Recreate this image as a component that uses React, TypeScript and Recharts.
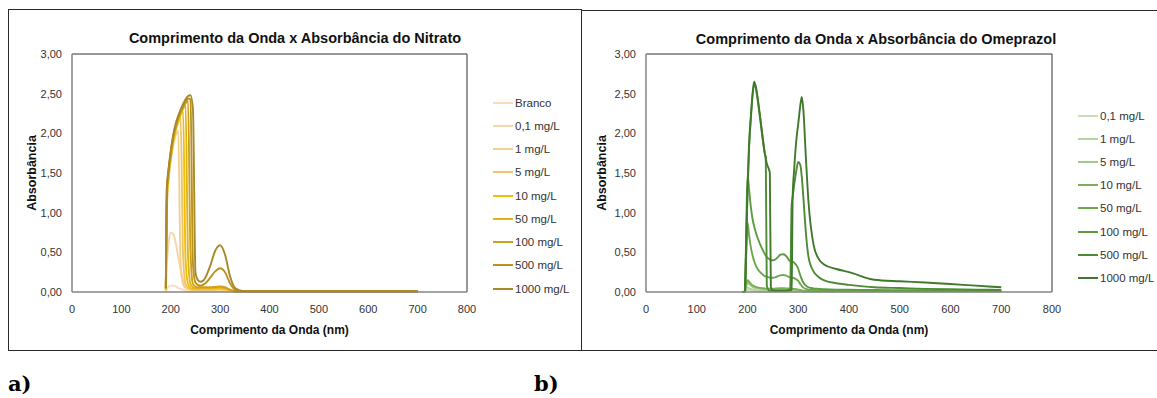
import { LineChart, Line, XAxis, YAxis, ReferenceLine, Legend } from 'recharts';

// shared axis ticks
const xTicks = [0, 100, 200, 300, 400, 500, 600, 700, 800];
const yTicks = [0, 0.5, 1, 1.5, 2, 2.5, 3];

// ---- Nitrato ----
const nitrateWave = [190, 192, 195, 200, 205, 210, 215, 220, 225, 230, 235, 240, 245, 250, 255, 260, 265, 270, 280, 290, 300, 310, 320, 330, 340, 350, 400, 500, 600, 700];
const nitrateNames = ['Branco', '0,1 mg/L', '1 mg/L', '5 mg/L', '10 mg/L', '50 mg/L', '100 mg/L', '500 mg/L', '1000 mg/L'];
const nitrateColors = ['#F9DCBD', '#F6D6A6', '#F3CF8E', '#F0C46C', '#F2C000', '#E3B31C', '#CFA01B', '#BA921F', '#A8892A'];
const nitBranco = [0.0, 0.03, 0.06, 0.08, 0.08, 0.07, 0.05, 0.04, 0.03, 0.02, 0.015, 0.01, 0.01, 0.01, 0.01, 0.01, 0.01, 0.01, 0.01, 0.01, 0.01, 0.01, 0.01, 0.01, 0.005, 0.005, 0.005, 0.005, 0.005, 0.005];
const nit01 = [0.0, 0.3, 0.58, 0.75, 0.73, 0.62, 0.45, 0.28, 0.15, 0.08, 0.05, 0.03, 0.02, 0.02, 0.02, 0.02, 0.02, 0.02, 0.02, 0.02, 0.02, 0.02, 0.015, 0.01, 0.01, 0.01, 0.01, 0.01, 0.01, 0.01];
const nit1 = [0.02, 1.0, 1.35, 1.65, 1.85, 1.98, 2.03, 0.35, 0.1, 0.05, 0.04, 0.03, 0.03, 0.02, 0.02, 0.02, 0.02, 0.02, 0.02, 0.025, 0.03, 0.025, 0.015, 0.01, 0.01, 0.01, 0.01, 0.01, 0.01, 0.01];
const nit5 = [0.03, 1.1, 1.4, 1.68, 1.88, 2.03, 2.13, 2.2, 0.45, 0.1, 0.05, 0.04, 0.03, 0.03, 0.03, 0.03, 0.03, 0.03, 0.03, 0.035, 0.04, 0.03, 0.02, 0.01, 0.01, 0.01, 0.01, 0.01, 0.01, 0.01];
const nit10 = [0.03, 1.15, 1.43, 1.7, 1.9, 2.05, 2.15, 2.23, 2.29, 0.4, 0.1, 0.05, 0.04, 0.04, 0.04, 0.04, 0.04, 0.04, 0.04, 0.045, 0.05, 0.04, 0.02, 0.01, 0.01, 0.01, 0.01, 0.01, 0.01, 0.01];
const nit50 = [0.04, 1.2, 1.46, 1.72, 1.92, 2.07, 2.17, 2.25, 2.31, 2.36, 0.45, 0.1, 0.06, 0.05, 0.05, 0.05, 0.05, 0.05, 0.05, 0.055, 0.06, 0.05, 0.025, 0.01, 0.01, 0.01, 0.01, 0.01, 0.01, 0.01];
const nit100 = [0.04, 1.25, 1.48, 1.74, 1.94, 2.09, 2.19, 2.27, 2.33, 2.38, 2.41, 0.5, 0.1, 0.07, 0.06, 0.06, 0.06, 0.06, 0.06, 0.065, 0.07, 0.06, 0.03, 0.01, 0.01, 0.01, 0.01, 0.01, 0.01, 0.01];
const nit500 = [0.05, 1.28, 1.5, 1.76, 1.96, 2.1, 2.2, 2.28, 2.35, 2.4, 2.44, 2.43, 0.35, 0.12, 0.09, 0.08, 0.09, 0.11, 0.18, 0.26, 0.3, 0.25, 0.11, 0.03, 0.01, 0.01, 0.01, 0.01, 0.01, 0.01];
const nit1000 = [0.05, 1.3, 1.52, 1.78, 1.98, 2.12, 2.22, 2.3, 2.37, 2.43, 2.47, 2.48, 2.3, 0.25, 0.15, 0.13, 0.14, 0.18, 0.33, 0.52, 0.59, 0.47, 0.2, 0.05, 0.02, 0.01, 0.01, 0.01, 0.01, 0.01];
const nitrateValues = [nitBranco, nit01, nit1, nit5, nit10, nit50, nit100, nit500, nit1000];

// ---- Omeprazol ----
const omeWave = [190, 195, 197, 200, 203, 207, 210, 213, 216, 220, 225, 230, 234, 236, 238, 242, 244, 246, 250, 255, 260, 265, 270, 275, 280, 282, 284, 287, 289, 292, 296, 300, 304, 307, 310, 315, 320, 330, 340, 350, 375, 400, 450, 500, 550, 600, 650, 700];
const omeNames = ['0,1 mg/L', '1 mg/L', '5 mg/L', '10 mg/L', '50 mg/L', '100 mg/L', '500 mg/L', '1000 mg/L'];
const omeColors = ['#CADFB9', '#B6D49F', '#A2C986', '#78AF57', '#6DA74D', '#5E9A41', '#4F8A35', '#3F7A2B'];
const ome01 = [0, 0.002, 0.015, 0.03, 0.025, 0.02, 0.015, 0.012, 0.01, 0.01, 0.01, 0.01, 0.01, 0.01, 0.01, 0.01, 0.01, 0.01, 0.01, 0.01, 0.01, 0.01, 0.01, 0.01, 0.01, 0.01, 0.01, 0.01, 0.01, 0.01, 0.01, 0.01, 0.01, 0.01, 0.008, 0.008, 0.008, 0.008, 0.008, 0.008, 0.008, 0.008, 0.008, 0.008, 0.008, 0.008, 0.008, 0.008];
const ome1 = [0, 0.003, 0.03, 0.06, 0.05, 0.04, 0.032, 0.027, 0.024, 0.021, 0.019, 0.018, 0.017, 0.017, 0.016, 0.016, 0.016, 0.016, 0.016, 0.016, 0.017, 0.018, 0.018, 0.017, 0.017, 0.017, 0.016, 0.016, 0.016, 0.015, 0.014, 0.013, 0.012, 0.011, 0.01, 0.01, 0.01, 0.01, 0.01, 0.01, 0.01, 0.01, 0.01, 0.01, 0.01, 0.01, 0.01, 0.01];
const ome5 = [0, 0.005, 0.06, 0.12, 0.1, 0.08, 0.065, 0.055, 0.05, 0.045, 0.04, 0.035, 0.033, 0.032, 0.031, 0.03, 0.03, 0.03, 0.03, 0.031, 0.032, 0.033, 0.033, 0.032, 0.031, 0.03, 0.03, 0.03, 0.029, 0.028, 0.026, 0.023, 0.02, 0.017, 0.015, 0.012, 0.01, 0.01, 0.01, 0.01, 0.01, 0.01, 0.01, 0.01, 0.01, 0.01, 0.01, 0.01];
const ome10 = [0, 0.005, 0.08, 0.15, 0.13, 0.1, 0.085, 0.075, 0.065, 0.058, 0.052, 0.048, 0.045, 0.044, 0.043, 0.042, 0.042, 0.042, 0.042, 0.044, 0.046, 0.048, 0.048, 0.046, 0.044, 0.043, 0.042, 0.041, 0.04, 0.038, 0.035, 0.03, 0.025, 0.02, 0.017, 0.014, 0.012, 0.012, 0.012, 0.012, 0.012, 0.012, 0.012, 0.012, 0.012, 0.012, 0.012, 0.012];
const ome50 = [0, 0.01, 0.35, 0.88, 0.72, 0.55, 0.46, 0.39, 0.34, 0.29, 0.25, 0.22, 0.2, 0.195, 0.19, 0.185, 0.18, 0.18, 0.18, 0.185, 0.2, 0.21, 0.215, 0.21, 0.195, 0.19, 0.185, 0.18, 0.18, 0.175, 0.16, 0.14, 0.1, 0.075, 0.055, 0.04, 0.03, 0.025, 0.02, 0.02, 0.02, 0.02, 0.02, 0.02, 0.018, 0.017, 0.016, 0.015];
const ome100 = [0, 0.01, 0.6, 1.48, 1.3, 1.05, 0.92, 0.83, 0.76, 0.68, 0.6, 0.53, 0.48, 0.46, 0.44, 0.42, 0.41, 0.4, 0.4, 0.41, 0.44, 0.47, 0.475, 0.46, 0.42, 0.4, 0.39, 0.385, 0.38, 0.37, 0.34, 0.29, 0.21, 0.16, 0.12, 0.08, 0.06, 0.045, 0.04, 0.035, 0.03, 0.03, 0.025, 0.02, 0.02, 0.02, 0.02, 0.015];
const ome500 = [0, 0.01, 0.45, 1.25, 1.8, 2.22, 2.48, 2.62, 2.58, 2.42, 2.18, 1.92, 1.75, 1.7, 0.08, 0.02, 0.015, 0.015, 0.015, 0.015, 0.015, 0.015, 0.015, 0.015, 0.02, 0.025, 0.03, 1.1, 1.2, 1.35, 1.52, 1.64, 1.6, 1.45, 1.2, 0.75, 0.45, 0.26, 0.19, 0.15, 0.11, 0.09, 0.06, 0.05, 0.04, 0.035, 0.03, 0.025];
const ome1000 = [0, 0.01, 0.5, 1.3, 1.85, 2.25, 2.5, 2.65, 2.6, 2.45, 2.2, 1.95, 1.75, 1.68, 1.62, 1.55, 1.5, 0.06, 0.02, 0.015, 0.015, 0.015, 0.015, 0.015, 0.02, 0.02, 0.02, 0.03, 1.2, 1.55, 1.9, 2.12, 2.35, 2.46, 2.3, 1.7, 1.15, 0.6, 0.42, 0.35, 0.29, 0.25, 0.155, 0.135, 0.12, 0.1, 0.08, 0.06];
const omeValues = [ome01, ome1, ome5, ome10, ome50, ome100, ome500, ome1000];

const FONT = '"Liberation Sans", Arial, sans-serif';

const fmtY = (v: number) => v.toFixed(2).replace('.', ',');

function buildRows(wave: number[], values: number[][]) {
  return wave.map((wl, i) => {
    const row: Record<string, number> = { wl };
    values.forEach((vals, k) => {
      row['s' + k] = vals[i];
    });
    return row;
  });
}

interface PanelProps {
  left: number;
  top: number;
  width: number;
  height: number;
  frameWidth: number;
  title: string;
  titleX: number;
  plotLeft: number;
  plotTop: number;
  plotRight: number;
  plotBottom: number;
  yLabelX: number;
  wave: number[];
  names: string[];
  colors: string[];
  values: number[][];
  legendX: number;
  legendY: number;
  legendRow: number;
}

function SpectrumPanel(p: PanelProps) {
  const rows = buildRows(p.wave, p.values);
  const legend = () => (
    <div style={{ fontFamily: FONT }}>
      {p.names.map((n, i) => (
        <div key={n} style={{ height: p.legendRow, display: 'flex', alignItems: 'center' }}>
          <span style={{ display: 'inline-block', width: 20, height: 2, background: p.colors[i], marginRight: 2 }} />
          <span style={{ fontSize: 11.5, color: '#333', whiteSpace: 'nowrap' }}>{n}</span>
        </div>
      ))}
    </div>
  );
  return (
    <div style={{ position: 'absolute', left: p.left, top: p.top, width: p.width, height: p.height }}>
      <div
        style={{
          position: 'absolute',
          left: 0,
          top: 0,
          width: p.frameWidth,
          height: p.height,
          border: '1.5px solid #2a2a2a',
          boxSizing: 'border-box',
        }}
      />
      <div
        style={{
          position: 'absolute',
          left: p.titleX,
          top: 20,
          transform: 'translateX(-50%)',
          whiteSpace: 'nowrap',
          fontFamily: FONT,
          fontWeight: 700,
          fontSize: 14.5,
          lineHeight: '18px',
          color: '#111',
        }}
      >
        {p.title}
      </div>
      <LineChart
        width={p.width}
        height={p.height}
        data={rows}
        margin={{ top: p.plotTop, right: p.width - p.plotRight, bottom: 0, left: 0 }}
        style={{ fontFamily: FONT }}
      >
        <XAxis
          dataKey="wl"
          type="number"
          domain={[0, 800]}
          ticks={xTicks}
          interval={0}
          height={p.height - p.plotBottom}
          tickLine={false}
          tickSize={0}
          tickMargin={13}
          axisLine={{ stroke: '#858585', strokeWidth: 1.5 }}
          tick={{ fontSize: 11, fill: '#333' }}
          label={{
            value: 'Comprimento da Onda (nm)',
            position: 'insideBottom',
            offset: 17,
            style: { fontSize: 12, fontWeight: 700, fill: '#111' },
          }}
        />
        <YAxis
          type="number"
          domain={[0, 3]}
          ticks={yTicks}
          interval={0}
          width={p.plotLeft}
          tickLine={false}
          tickSize={0}
          tickMargin={10}
          tickFormatter={fmtY}
          axisLine={{ stroke: '#858585', strokeWidth: 1.5 }}
          tick={{ fontSize: 11, fill: '#333' }}
          label={{
            value: 'Absorbância',
            angle: -90,
            position: 'insideLeft',
            offset: p.yLabelX,
            style: { textAnchor: 'middle', fontSize: 12.5, fontWeight: 700, fill: '#111' },
          }}
        />
        <ReferenceLine y={3} stroke="#333" strokeWidth={1} />
        <ReferenceLine x={800} stroke="#333" strokeWidth={1} />
        <Legend
          layout="vertical"
          align="center"
          verticalAlign="middle"
          content={legend}
          wrapperStyle={{ left: p.legendX, top: p.legendY, width: 'auto' }}
        />
        {p.names.map((n, k) => (
          <Line
            key={n}
            name={n}
            dataKey={'s' + k}
            type="monotone"
            stroke={p.colors[k]}
            strokeWidth={1.9}
            dot={false}
            activeDot={false}
            isAnimationActive={false}
          />
        ))}
      </LineChart>
    </div>
  );
}

const tagStyle = {
  position: 'absolute' as const,
  top: 372,
  fontFamily: '"DejaVu Serif", serif',
  fontWeight: 700,
  fontSize: 21,
  lineHeight: '24px',
  color: '#000',
};

export default function App() {
  return (
    <div
      style={{
        position: 'absolute',
        left: 0,
        top: 0,
        width: 1157,
        height: 398,
        overflow: 'hidden',
        background: '#fff',
      }}
    >
      <SpectrumPanel
        left={8}
        top={9}
        width={574}
        height={342}
        frameWidth={574}
        title="Comprimento da Onda x Absorbância do Nitrato"
        titleX={287}
        plotLeft={64}
        plotTop={45}
        plotRight={459}
        plotBottom={283}
        yLabelX={23.5}
        wave={nitrateWave}
        names={nitrateNames}
        colors={nitrateColors}
        values={nitrateValues}
        legendX={485}
        legendY={82}
        legendRow={23.25}
      />
      <SpectrumPanel
        left={581}
        top={10}
        width={576}
        height={341}
        frameWidth={620}
        title="Comprimento da Onda x Absorbância do Omeprazol"
        titleX={295}
        plotLeft={65}
        plotTop={44}
        plotRight={471}
        plotBottom={282}
        yLabelX={21}
        wave={omeWave}
        names={omeNames}
        colors={omeColors}
        values={omeValues}
        legendX={497}
        legendY={94}
        legendRow={23.2}
      />
      <div style={{ ...tagStyle, left: 8 }}>a)</div>
      <div style={{ ...tagStyle, left: 534 }}>b)</div>
    </div>
  );
}
